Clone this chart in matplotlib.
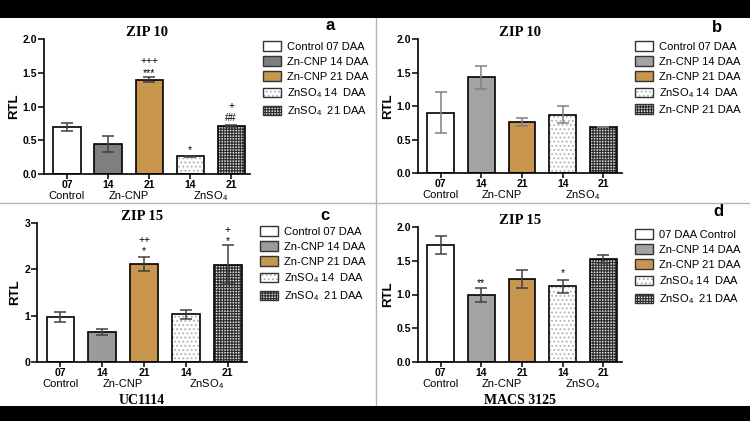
import matplotlib
matplotlib.use('Agg')
import matplotlib.pyplot as plt
import matplotlib.patches as mpatches
import matplotlib.transforms as mtransforms

plt.rcParams['font.family'] = ['Liberation Sans', 'DejaVu Sans']
plt.rcParams['mathtext.default'] = 'regular'
plt.rcParams['hatch.linewidth'] = 0.8

# datos
dias = ['07', '14', '21', '14', '21']
grupos = ['Control', 'Zn-CNP', 'ZnSO$_4$']

zip10_a = [0.69, 0.44, 1.40, 0.26, 0.71]
zip10_a_err = [0.06, 0.12, 0.035, 0.01, 0.01]
# (barra, marca, altura)
zip10_a_sig = [(2, '***', 1.50), (2, '+++', 1.68), (3, '*', 0.35),
               (4, '##', 0.83), (4, '+', 1.01)]

zip10_b = [0.90, 1.43, 0.76, 0.87, 0.69]
zip10_b_err = [0.31, 0.17, 0.055, 0.13, 0.0]

zip15_c = [0.97, 0.65, 2.12, 1.03, 2.10]
zip15_c_err = [0.10, 0.07, 0.15, 0.10, 0.42]
zip15_c_sig = [(2, '*', 2.39), (2, '++', 2.63), (4, '*', 2.60), (4, '+', 2.84)]

zip15_d = [1.73, 0.99, 1.23, 1.12, 1.53]
zip15_d_err = [0.13, 0.10, 0.14, 0.10, 0.06]
zip15_d_sig = [(1, '**', 1.17), (3, '*', 1.32)]

leyenda_abc = ['Control 07 DAA', 'Zn-CNP 14 DAA', 'Zn-CNP 21 DAA',
               'ZnSO$_4$ 14  DAA', 'ZnSO$_4$  21 DAA']
leyenda_b = ['Control 07 DAA', 'Zn-CNP 14 DAA', 'Zn-CNP 21 DAA',
             'ZnSO$_4$ 14  DAA', 'Zn-CNP 21 DAA']
leyenda_d = ['07 DAA Control', 'Zn-CNP 14 DAA', 'Zn-CNP 21 DAA',
             'ZnSO$_4$ 14  DAA', 'ZnSO$_4$  21 DAA']

ORO = '#c8964f'
W, H = 750, 421


def px_ax(fig, l, r, t, b):
    return fig.add_axes([l / W, 1 - b / H, (r - l) / W, (b - t) / H])


def estilos(gris):
    # (facecolor, hatch, color del hatch)
    return [('white', None, None), (gris, None, None), (ORO, None, None),
            ('white', '....', '#b0b0b0'), ('#d9d9d9', '++++++', '#2a2a2a')]


def panel(fig, caja, vals, errs, sig, ymax, yticks, ytl, gris, ecol,
          titulo, letra, pos_letra, leyenda, pos_ley, xlabel=None):
    ax = px_ax(fig, *caja)
    x = list(range(len(vals)))
    est = estilos(gris)
    for i, v in enumerate(vals):
        fc, hatch, hc = est[i]
        if hatch:
            ax.bar(x[i], v, width=0.66, color=fc, hatch=hatch, edgecolor=hc, linewidth=0, zorder=2)
            ax.bar(x[i], v, width=0.66, fill=False, edgecolor='black', linewidth=1.2, zorder=3)
        else:
            ax.bar(x[i], v, width=0.66, color=fc, edgecolor='black', linewidth=1.2, zorder=2)
    ax.errorbar(x, vals, yerr=errs, fmt='none', ecolor=ecol, elinewidth=1.1,
                capsize=4.5, capthick=1.1, zorder=4)
    for i, s, y in sig:
        ax.text(x[i], y, s, ha='center', va='center', fontsize=7.5, clip_on=False)
    ax.set_xlim(-0.56, 4.46)
    ax.set_ylim(0, ymax)
    ax.set_yticks(yticks)
    ax.set_yticklabels(ytl, fontweight='bold', fontsize=7.5)
    ax.set_xticks(x)
    ax.set_xticklabels(dias, fontweight='bold', fontsize=7.5)
    ax.tick_params(axis='y', length=4, width=1.1, pad=1)
    ax.tick_params(axis='x', length=3.5, width=1.1, pad=0.5)
    for sp in ['top', 'right']:
        ax.spines[sp].set_visible(False)
    for sp in ['left', 'bottom']:
        ax.spines[sp].set_linewidth(1.2)
    ax.set_ylabel('RTL', fontweight='bold', fontsize=9.5, labelpad=2)
    trans = mtransforms.blended_transform_factory(ax.transData, ax.transAxes)
    dy = -22 / (caja[3] - caja[2])
    for xp, g in zip([0, 1.5, 3.5], grupos):
        ax.text(xp, dy, g, transform=trans, ha='center', va='center', fontsize=8)
    ax.set_title(titulo, family='Liberation Serif', fontweight='bold', fontsize=10.5, pad=0)
    fig.text(pos_letra[0] / W, 1 - pos_letra[1] / H, letra, fontweight='bold',
             fontsize=12, ha='center', va='center')
    if xlabel:
        fig.text((caja[0] + caja[1]) / 2 / W, 1 - 400 / H, xlabel,
                 family='Liberation Serif', fontweight='bold', fontsize=10,
                 ha='center', va='center')
    handles = []
    for fc, hatch, hc in est:
        if hatch:
            handles.append((mpatches.Patch(facecolor=fc, hatch=hatch, edgecolor=hc, linewidth=0),
                            mpatches.Patch(fill=False, edgecolor='#333333', linewidth=1)))
        else:
            handles.append(mpatches.Patch(facecolor=fc, edgecolor='#333333', linewidth=1))
    fig.legend(handles, leyenda, loc='upper left',
               bbox_to_anchor=(pos_ley[0] / W, 1 - pos_ley[1] / H),
               frameon=False, fontsize=8, handlelength=1.6, handleheight=0.95,
               handletextpad=0.6, labelspacing=0.4, borderpad=0, borderaxespad=0)
    return ax


fig = plt.figure(figsize=(7.5, 4.21), dpi=100)

panel(fig, (44, 250, 39, 174), zip10_a, zip10_a_err, zip10_a_sig, 2.0,
      [0, 0.5, 1.0, 1.5, 2.0], ['0.0', '0.5', '1.0', '1.5', '2.0'], '#7f7f7f', '#404040',
      'ZIP 10', 'a', (330, 25), leyenda_abc, (263, 41))
panel(fig, (418, 622, 39, 173), zip10_b, zip10_b_err, [], 2.0,
      [0, 0.5, 1.0, 1.5, 2.0], ['0.0', '0.5', '1.0', '1.5', '2.0'], '#a3a3a3', '#808080',
      'ZIP 10', 'b', (717, 28), leyenda_b, (635, 41))
panel(fig, (37, 247, 223, 362), zip15_c, zip15_c_err, zip15_c_sig, 3,
      [0, 1, 2, 3], ['0', '1', '2', '3'], '#9b9b9b', '#404040',
      'ZIP 15', 'c', (325, 215), leyenda_abc, (260, 226), xlabel='UC1114')
panel(fig, (418, 622, 227, 362), zip15_d, zip15_d_err, zip15_d_sig, 2.0,
      [0, 0.5, 1.0, 1.5, 2.0], ['0.0', '0.5', '1.0', '1.5', '2.0'], '#a3a3a3', '#404040',
      'ZIP 15', 'd', (718, 212), leyenda_d, (635, 229), xlabel='MACS 3125')

# marco: bandas negras y separadores
fig.patches.append(mpatches.Rectangle((0, 1 - 18 / H), 1, 18 / H, transform=fig.transFigure,
                                      facecolor='black', edgecolor='none', zorder=10))
fig.patches.append(mpatches.Rectangle((0, 0), 1, 15 / H, transform=fig.transFigure,
                                      facecolor='black', edgecolor='none', zorder=10))
fig.add_artist(plt.Line2D([0, 1], [1 - 203 / H] * 2, transform=fig.transFigure,
                          color='#b5b5b5', linewidth=1))
fig.add_artist(plt.Line2D([375.5 / W] * 2, [15 / H, 1 - 18 / H], transform=fig.transFigure,
                          color='#b5b5b5', linewidth=1))

fig.savefig('out.png', dpi=100)
